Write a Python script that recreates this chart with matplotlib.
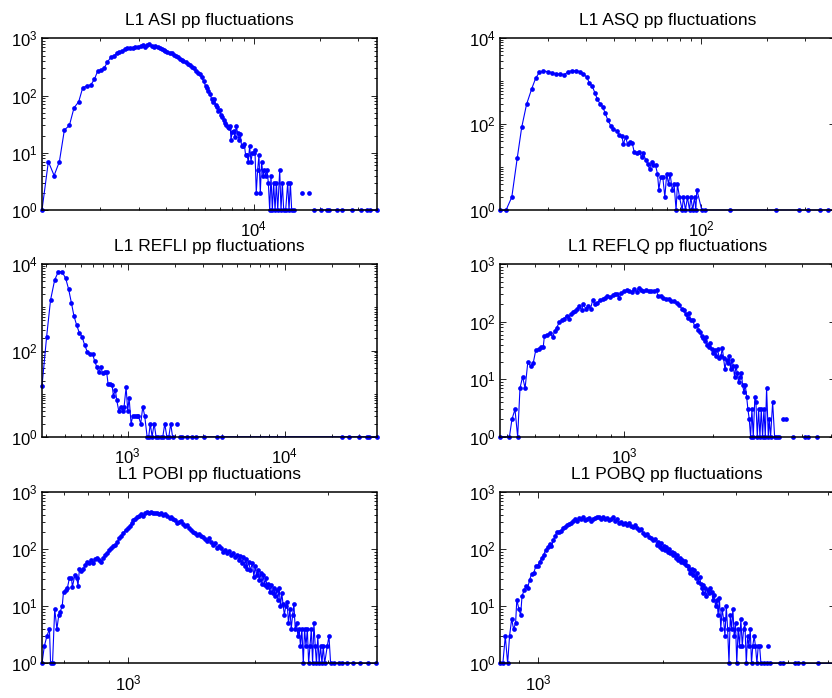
#!/usr/bin/python
import numpy as np
import matplotlib
matplotlib.use('Agg')
import matplotlib.pyplot as plt
from matplotlib.ticker import LogLocator, FixedLocator, NullFormatter

# pp amplitude (bin centre) and number of counts per bin
# zero counts are empty bins (gaps in the log plot)
asi_amp = [1084, 1159, 1231, 1301, 1371, 1445, 1517, 1594, 1662, 1734,
           1808, 1879, 1945, 2009, 2080, 2155, 2232, 2311, 2377, 2445,
           2515, 2586, 2659, 2734, 2811, 2892, 2974, 3058, 3146, 3213,
           3281, 3351, 3423, 3495, 3569, 3645, 3723, 3802, 3882, 3964,
           4048, 4136, 4223, 4313, 4404, 4499, 4594, 4691, 4788, 4892,
           4997, 5103, 5211, 5321, 5435, 5550, 5668, 5788, 5911, 6036,
           6122, 6208, 6341, 6432, 6521, 6614, 6706, 6800, 6897, 6994,
           7094, 7194, 7295, 7398, 7503, 7609, 7716, 7826, 7882, 7994,
           8105, 8220, 8334, 8453, 8573, 8693, 8816, 8942, 9068, 9196,
           9325, 9458, 9590, 9726, 9864, 10000, 10140, 10280, 10430, 10575,
           10725, 10875, 11030, 11190, 11345, 11507, 11670, 11835, 12000, 12170,
           12343, 12520, 12700, 12880, 13150, 13330, 13520, 13710, 14000, 14300,
           14500, 14707, 14910, 15230, 15900, 16650, 17200, 17890, 18300, 18840,
           20370, 21630, 21950, 23990, 25200, 27960, 31000, 32930, 34100, 36330]
asi_count = [1, 7, 4, 7, 25, 30, 61, 78, 137, 147,
             153, 192, 268, 279, 299, 385, 465, 497, 546, 569,
             609, 640, 677, 677, 686, 705, 714, 734, 754, 714,
             764, 785, 734, 714, 734, 695, 677, 650, 625, 600,
             576, 555, 546, 511, 491, 465, 438, 418, 402, 379,
             350, 337, 319, 299, 268, 251, 237, 207, 180, 147,
             134, 122, 105, 86, 78, 86, 68, 64, 54, 56,
             46, 42, 38, 33, 31, 28, 27, 29, 17, 23,
             24, 19, 29, 22, 17, 21, 13, 13, 14, 9,
             9, 7, 13, 7, 10, 10, 11, 2, 5, 9,
             2, 7, 4, 5, 4, 5, 3, 1, 4, 1,
             3, 1, 3, 1, 5, 1, 3, 1, 1, 3,
             1, 3, 1, 1, 0, 2, 0, 2, 0, 1,
             1, 1, 1, 1, 1, 1, 1, 1, 1, 1]

asq_amp = [12.1, 12.9, 13.7, 14.5, 15.2, 16.0, 16.9, 17.6, 18.3, 19.1,
           20.0, 21.0, 21.8, 22.8, 23.8, 24.8, 25.8, 27.0, 28.1, 29.1,
           30.2, 31.0, 31.9, 32.8, 33.7, 34.7, 35.6, 36.6, 37.6, 38.8,
           39.9, 41.3, 42.5, 43.6, 44.3, 45.3, 46.3, 47.3, 48.6, 49.6,
           51.0, 52.4, 53.6, 54.7, 55.9, 57.1, 58.3, 59.6, 60.8, 62.1,
           63.4, 64.3, 65.7, 67.0, 68.5, 69.9, 71.2, 72.4, 74.0, 75.5,
           77.1, 78.2, 79.9, 82.2, 83.3, 85.1, 86.9, 88.8, 90.0, 91.9,
           93.6, 94.9, 95.9, 101, 104.7, 136, 221, 280, 310, 351,
           383, 408]
asq_count = [1, 1, 2, 16, 84, 290, 672, 1170, 1614, 1734,
             1672, 1585, 1475, 1475, 1422, 1672, 1765, 1765, 1672, 1475,
             1233, 894, 774, 542, 379, 295, 256, 179, 125, 91,
             76, 69, 56, 53, 34, 51, 34, 39, 36, 23,
             21, 23, 17, 21, 15, 12, 9, 13, 11, 11,
             7, 3, 6, 6, 2, 7, 4, 7, 3, 4,
             1, 4, 2, 1, 2, 1, 2, 1, 2, 1,
             2, 1, 3, 1, 1, 1, 1, 1, 1, 1,
             1, 1]

refli_amp = [284, 304, 322, 342, 361, 381, 402, 420, 437, 454,
             472, 491, 511, 531, 552, 574, 597, 615, 634, 653,
             672, 692, 713, 734, 749, 771, 794, 810, 834, 851,
             876, 902, 929, 948, 976, 1000, 1020, 1050, 1076, 1110,
             1141, 1170, 1210, 1247, 1283, 1329, 1360, 1392, 1430, 1473,
             1516, 1570, 1625, 1673, 1722, 1775, 1828, 1880, 1930, 2000,
             2070, 2120, 2168, 2217, 2380, 2550, 2720, 3060, 3700, 3980,
             23260, 25650, 29700, 33580, 34400, 38540]
refli_count = [15, 210, 1486, 4327, 6760, 6760, 4730, 2630, 1290, 632,
               391, 259, 210, 134, 94, 83, 83, 57, 42, 31,
               41, 30, 32, 31, 17, 17, 16, 9, 12, 7,
               4, 5, 4, 5, 14, 4, 8, 2, 3, 3,
               3, 3, 2, 5, 3, 1, 1, 2, 1, 2,
               1, 1, 1, 1, 2, 1, 1, 2, 1, 0,
               2, 0, 1, 1, 1, 1, 1, 1, 1, 1,
               1, 1, 1, 1, 1, 1]

reflq_amp = [380, 409, 417, 427, 436, 444, 453, 462, 472, 482,
             492, 502, 513, 521, 532, 537, 550, 561, 573, 581,
             590, 603, 615, 625, 638, 648, 658, 669, 681, 693,
             704, 717, 727, 742, 755, 769, 782, 796, 811, 828,
             845, 860, 877, 895, 914, 930, 947, 962, 977, 998,
             1018, 1040, 1059, 1079, 1101, 1118, 1136, 1159, 1183, 1208,
             1234, 1259, 1286, 1299, 1327, 1355, 1384, 1413, 1443, 1473,
             1504, 1535, 1567, 1592, 1612, 1637, 1659, 1676, 1703, 1730,
             1757, 1780, 1803, 1826, 1850, 1874, 1887, 1909, 1930, 1949,
             1974, 2000, 2021, 2042, 2069, 2096, 2123, 2145, 2168, 2190,
             2219, 2242, 2266, 2289, 2313, 2337, 2361, 2386, 2410, 2435,
             2462, 2487, 2513, 2539, 2565, 2593, 2619, 2647, 2674, 2702,
             2730, 2766, 2788, 2817, 2846, 2876, 2906, 2936, 2967, 2998,
             3029, 3070, 3093, 3125, 3175, 3224, 3275, 3344, 3400, 3450,
             3522, 3600, 3728, 3900, 4083, 4191, 4300, 4468, 4800, 5140]
reflq_count = [1, 1, 2, 3, 1, 7, 11, 7, 20, 17,
               19, 32, 34, 36, 36, 57, 60, 64, 54, 68,
               78, 98, 106, 112, 128, 112, 134, 147, 153, 168,
               187, 159, 200, 168, 187, 168, 238, 200, 214, 238,
               245, 261, 279, 268, 287, 299, 299, 261, 319, 342,
               356, 342, 328, 375, 328, 391, 356, 342, 356, 342,
               350, 342, 356, 279, 279, 261, 245, 252, 228, 228,
               214, 192, 168, 159, 134, 117, 143, 106, 106, 84,
               89, 73, 66, 57, 52, 46, 54, 40, 37, 43,
               33, 29, 32, 25, 33, 23, 25, 35, 23, 15,
               22, 19, 25, 15, 22, 17, 11, 17, 13, 9,
               11, 13, 8, 6, 8, 5, 3, 2, 1, 3,
               1, 5, 4, 1, 3, 1, 3, 1, 3, 1,
               7, 1, 2, 1, 4, 1, 1, 1, 0, 2,
               2, 0, 1, 0, 1, 1, 0, 1, 0, 1]

pobi_amp = [622, 630, 639, 648, 652, 659, 667, 675, 682, 687,
            695, 700, 708, 715, 723, 731, 735, 745, 753, 758,
            764, 772, 780, 789, 798, 807, 816, 825, 834, 843,
            852, 862, 871, 881, 891, 901, 911, 921, 931, 941,
            952, 962, 973, 984, 995, 1006, 1017, 1028, 1039, 1050,
            1062, 1074, 1086, 1098, 1110, 1122, 1134, 1147, 1159, 1172,
            1185, 1198, 1212, 1225, 1239, 1253, 1262, 1276, 1290, 1305,
            1320, 1334, 1349, 1364, 1379, 1394, 1409, 1425, 1440, 1456,
            1472, 1489, 1505, 1521, 1538, 1555, 1573, 1590, 1607, 1625,
            1642, 1660, 1678, 1697, 1716, 1735, 1754, 1773, 1793, 1812,
            1832, 1849, 1862, 1881, 1893, 1906, 1920, 1934, 1953, 1976,
            1991, 2006, 2021, 2036, 2051, 2066, 2081, 2096, 2111, 2126,
            2141, 2157, 2174, 2190, 2206, 2223, 2239, 2255, 2272, 2288,
            2304, 2321, 2337, 2354, 2372, 2390, 2408, 2427, 2445, 2463,
            2481, 2499, 2518, 2536, 2554, 2572, 2592, 2612, 2631, 2651,
            2671, 2690, 2710, 2730, 2749, 2769, 2789, 2808, 2829, 2850,
            2872, 2894, 2915, 2937, 2980, 3008, 3035, 3089, 3170, 3226,
            3316, 3436, 3562, 3727, 3905]
pobi_count = [1, 2, 3, 4, 1, 1, 9, 4, 7, 8,
              10, 18, 19, 21, 31, 32, 22, 35, 31, 23,
              45, 41, 45, 53, 61, 57, 65, 58, 67, 70,
              65, 61, 70, 80, 87, 97, 104, 114, 119, 136,
              156, 171, 196, 218, 234, 257, 286, 327, 336, 364,
              384, 417, 384, 428, 458, 440, 458, 428, 428, 440,
              417, 428, 400, 417, 384, 350, 364, 336, 327, 294,
              305, 318, 278, 257, 267, 234, 218, 204, 196, 178,
              186, 171, 162, 150, 142, 156, 136, 119, 127, 104,
              114, 104, 91, 97, 87, 95, 80, 87, 72, 80,
              65, 75, 57, 72, 50, 67, 46, 61, 43, 57,
              33, 50, 35, 43, 29, 38, 25, 35, 24, 31,
              22, 25, 18, 24, 17, 21, 15, 19, 13, 21,
              10, 17, 11, 7, 10, 12, 5, 9, 4, 7,
              11, 4, 5, 3, 4, 2, 4, 1, 4, 2,
              4, 1, 2, 4, 1, 5, 2, 1, 3, 1,
              2, 1, 2, 1, 2, 3, 1, 1, 1, 1,
              1, 1, 1, 1, 1]

pobq_amp = [808, 821, 832, 843, 852, 862, 871, 881, 887, 897,
            906, 913, 923, 935, 942, 952, 963, 974, 985, 996,
            1007, 1018, 1029, 1041, 1052, 1064, 1075, 1087, 1099, 1108,
            1121, 1134, 1146, 1159, 1172, 1185, 1199, 1212, 1226, 1240,
            1254, 1268, 1282, 1297, 1308, 1323, 1338, 1353, 1368, 1384,
            1399, 1415, 1431, 1446, 1463, 1480, 1496, 1513, 1529, 1546,
            1562, 1579, 1597, 1615, 1634, 1652, 1671, 1689, 1708, 1726,
            1746, 1766, 1786, 1806, 1826, 1846, 1866, 1886, 1908, 1930,
            1945, 1959, 1974, 1989, 2004, 2018, 2033, 2048, 2062, 2077,
            2093, 2109, 2125, 2141, 2158, 2174, 2190, 2206, 2222, 2238,
            2254, 2270, 2287, 2304, 2322, 2340, 2357, 2375, 2392, 2410,
            2428, 2445, 2463, 2480, 2489, 2498, 2518, 2537, 2556, 2576,
            2595, 2614, 2634, 2653, 2672, 2692, 2711, 2730, 2751, 2772,
            2793, 2815, 2836, 2857, 2879, 2900, 2921, 2942, 2963, 2985,
            3006, 3029, 3052, 3075, 3099, 3122, 3145, 3169, 3192, 3216,
            3239, 3262, 3285, 3310, 3335, 3361, 3386, 3412, 3437, 3488,
            3551, 3567, 3583, 3599, 3615, 3822, 3894, 4155, 4233, 4351,
            4727, 5170]
pobq_count = [1, 1, 3, 1, 3, 6, 4, 5, 13, 9,
              7, 15, 19, 23, 21, 29, 37, 38, 50, 51,
              61, 70, 80, 97, 108, 124, 114, 146, 171, 204,
              204, 212, 234, 250, 267, 278, 294, 318, 336, 318,
              350, 336, 364, 327, 336, 350, 318, 336, 350, 374,
              364, 336, 364, 336, 350, 327, 336, 364, 318, 336,
              294, 305, 278, 286, 267, 294, 257, 250, 267, 234,
              218, 226, 196, 178, 186, 162, 156, 146, 150, 119,
              136, 108, 127, 100, 114, 97, 108, 91, 100, 85,
              91, 80, 85, 70, 80, 65, 70, 61, 65, 57,
              63, 53, 51, 46, 38, 45, 35, 43, 31, 38,
              27, 33, 25, 21, 17, 24, 21, 15, 19, 17,
              21, 18, 13, 16, 10, 13, 7, 14, 4, 9,
              6, 3, 10, 4, 1, 7, 4, 9, 3, 5,
              1, 4, 2, 6, 2, 4, 5, 1, 3, 2,
              4, 1, 2, 3, 2, 1, 2, 2, 1, 1,
              1, 0, 2, 0, 1, 1, 1, 1, 1, 1,
              1, 1]

titles = ['L1 ASI pp fluctuations', 'L1 ASQ pp fluctuations',
          'L1 REFLI pp fluctuations', 'L1 REFLQ pp fluctuations',
          'L1 POBI pp fluctuations', 'L1 POBQ pp fluctuations']
yticks_wide = [1, 1e2, 1e4]   # panels going up to 10^4 only label every 2nd decade

plt.rcParams['font.family'] = ['Liberation Sans', 'DejaVu Sans']
plt.rcParams['mathtext.fontset'] = 'custom'
plt.rcParams['mathtext.rm'] = 'Liberation Sans'
plt.rcParams['mathtext.it'] = 'Liberation Sans:italic'
plt.rcParams['mathtext.bf'] = 'Liberation Sans:bold'

W, H = 832, 698
fig = plt.figure(figsize=(W / 100.0, H / 100.0), dpi=100)


def panel(box, amp, count, title, ytop):
    # box = left, top, right, bottom in pixels (right column runs off the page)
    l, t, r, b = box
    ax = fig.add_axes([l / float(W), 1 - b / float(H),
                       (r - l) / float(W), (b - t) / float(H)])
    cnt = np.array(count, dtype=float)
    cnt[cnt <= 0] = np.nan
    ax.plot(amp, cnt, '-', color='b', lw=0.8, marker='o', ms=3.4, mew=0,
            clip_on=False)
    ax.set_xscale('log')
    ax.set_yscale('log')
    ax.set_xlim(min(amp), max(amp))  # axis tight
    ax.set_ylim(1, ytop)
    if ytop > 1e3:
        ax.yaxis.set_major_locator(FixedLocator(yticks_wide))
        ax.yaxis.set_minor_locator(LogLocator(base=10, subs=np.arange(1, 10)))
    ax.xaxis.set_minor_formatter(NullFormatter())
    ax.yaxis.set_minor_formatter(NullFormatter())
    ax.tick_params(which='both', direction='in', top=True, right=True,
                   width=0.6, labelsize=12)
    ax.tick_params(which='major', length=4.5)
    ax.tick_params(which='minor', length=2.5)
    ax.tick_params(axis='x', pad=7)
    ax.tick_params(axis='y', pad=3)
    for s in ax.spines.values():
        s.set_linewidth(1.1)
    ax.set_title(title, fontsize=12.5, pad=9.5)
    return ax


panel((42, 38.3, 376.5, 210), asi_amp, asi_count, titles[0], 1e3)
panel((500, 38.3, 834.5, 210), asq_amp, asq_count, titles[1], 1e4)
panel((42, 264.3, 376.5, 436.7), refli_amp, refli_count, titles[2], 1e4)
panel((500, 264.3, 834.5, 436.7), reflq_amp, reflq_count, titles[3], 1e3)
panel((42, 492.3, 376.5, 663.3), pobi_amp, pobi_count, titles[4], 1e3)
panel((500, 492.3, 834.5, 663.3), pobq_amp, pobq_count, titles[5], 1e3)

fig.savefig('out.png', dpi=100)
